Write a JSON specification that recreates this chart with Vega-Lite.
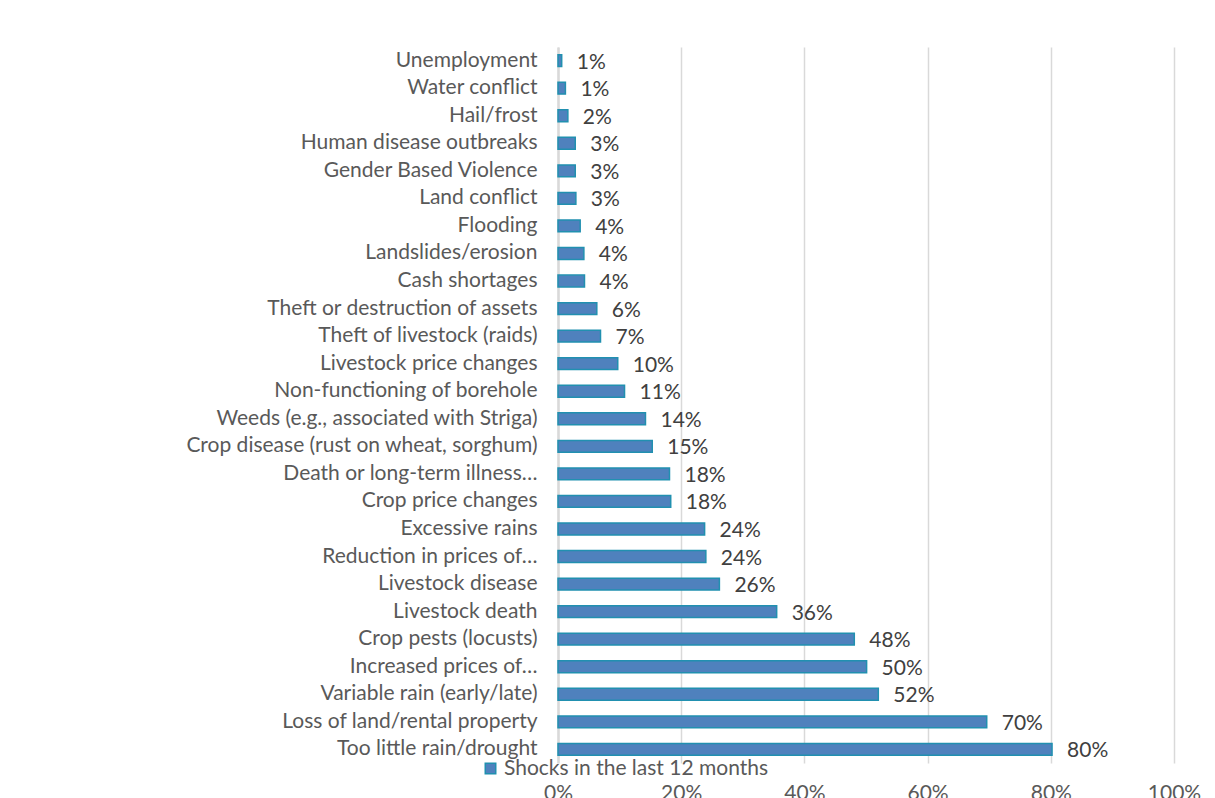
{
  "$schema": "https://vega.github.io/schema/vega-lite/v6.json",
  "autosize": {"type": "none"},
  "padding": {"left": 558, "top": 47, "right": 41, "bottom": 35},
  "width": 616,
  "height": 716,
  "background": "white",
  "config": {
    "view": {"stroke": null},
    "font": "Lato",
    "axis": {"labelFont": "Lato", "labelColor": "#595959", "labelFontSize": 21},
    "legend": {"labelFont": "Lato", "labelColor": "#595959", "labelFontSize": 21}
  },
  "data": {
    "values": [
      {"shock": "Unemployment", "value": 0.006, "series": "Shocks in the last 12 months"},
      {"shock": "Water conflict", "value": 0.012, "series": "Shocks in the last 12 months"},
      {"shock": "Hail/frost", "value": 0.016, "series": "Shocks in the last 12 months"},
      {"shock": "Human disease outbreaks", "value": 0.028, "series": "Shocks in the last 12 months"},
      {"shock": "Gender Based Violence", "value": 0.028, "series": "Shocks in the last 12 months"},
      {"shock": "Land conflict", "value": 0.029, "series": "Shocks in the last 12 months"},
      {"shock": "Flooding", "value": 0.036, "series": "Shocks in the last 12 months"},
      {"shock": "Landslides/erosion", "value": 0.042, "series": "Shocks in the last 12 months"},
      {"shock": "Cash shortages", "value": 0.043, "series": "Shocks in the last 12 months"},
      {"shock": "Theft or destruction of assets", "value": 0.063, "series": "Shocks in the last 12 months"},
      {"shock": "Theft of livestock (raids)", "value": 0.069, "series": "Shocks in the last 12 months"},
      {"shock": "Livestock price changes", "value": 0.097, "series": "Shocks in the last 12 months"},
      {"shock": "Non-functioning of borehole", "value": 0.108, "series": "Shocks in the last 12 months"},
      {"shock": "Weeds (e.g., associated with Striga)", "value": 0.142, "series": "Shocks in the last 12 months"},
      {"shock": "Crop disease (rust on wheat, sorghum)", "value": 0.153, "series": "Shocks in the last 12 months"},
      {"shock": "Death or long-term illness…", "value": 0.181, "series": "Shocks in the last 12 months"},
      {"shock": "Crop price changes", "value": 0.183, "series": "Shocks in the last 12 months"},
      {"shock": "Excessive rains", "value": 0.238, "series": "Shocks in the last 12 months"},
      {"shock": "Reduction in prices of…", "value": 0.240, "series": "Shocks in the last 12 months"},
      {"shock": "Livestock disease", "value": 0.262, "series": "Shocks in the last 12 months"},
      {"shock": "Livestock death", "value": 0.355, "series": "Shocks in the last 12 months"},
      {"shock": "Crop pests (locusts)", "value": 0.481, "series": "Shocks in the last 12 months"},
      {"shock": "Increased prices of…", "value": 0.501, "series": "Shocks in the last 12 months"},
      {"shock": "Variable rain (early/late)", "value": 0.520, "series": "Shocks in the last 12 months"},
      {"shock": "Loss of land/rental property", "value": 0.696, "series": "Shocks in the last 12 months"},
      {"shock": "Too little rain/drought", "value": 0.802, "series": "Shocks in the last 12 months"}
    ]
  },
  "encoding": {
    "y": {
      "field": "shock", "type": "nominal", "sort": null, "title": null,
      "scale": {"paddingInner": 0.57, "paddingOuter": 0.28},
      "axis": {"domain": true, "domainColor": "#d9d9d9", "domainWidth": 2.5, "ticks": false, "labelPadding": 21, "labelLimit": 450, "grid": false}
    },
    "x": {
      "field": "value", "type": "quantitative", "title": null,
      "scale": {"domain": [0, 1], "nice": false},
      "axis": {"values": [0, 0.2, 0.4, 0.6, 0.8, 1], "format": ".0%", "domain": false, "ticks": false, "grid": true, "gridColor": "#d9d9d9", "gridWidth": 1.5, "labelPadding": 19, "labelFlush": false, "labelBaseline": "top"}
    }
  },
  "layer": [
    {
      "mark": {"type": "bar", "stroke": "#2190b0", "strokeWidth": 1.5, "orient": "horizontal"},
      "encoding": {
        "color": {
          "field": "series", "type": "nominal",
          "scale": {"range": ["#4f81bd"]},
          "legend": {"orient": "none", "legendX": -78, "legendY": 711, "title": null, "symbolType": "square", "symbolSize": 110, "symbolStrokeColor": "#2190b0", "symbolStrokeWidth": 1.5, "labelOffset": 3, "labelLimit": 400, "padding": 0}
        }
      }
    },
    {
      "mark": {"type": "text", "align": "left", "dx": 15, "dy": 2, "fontSize": 21, "font": "Lato", "color": "#404040"},
      "encoding": {
        "text": {"field": "value", "type": "quantitative", "format": ".0%"}
      }
    }
  ]
}
